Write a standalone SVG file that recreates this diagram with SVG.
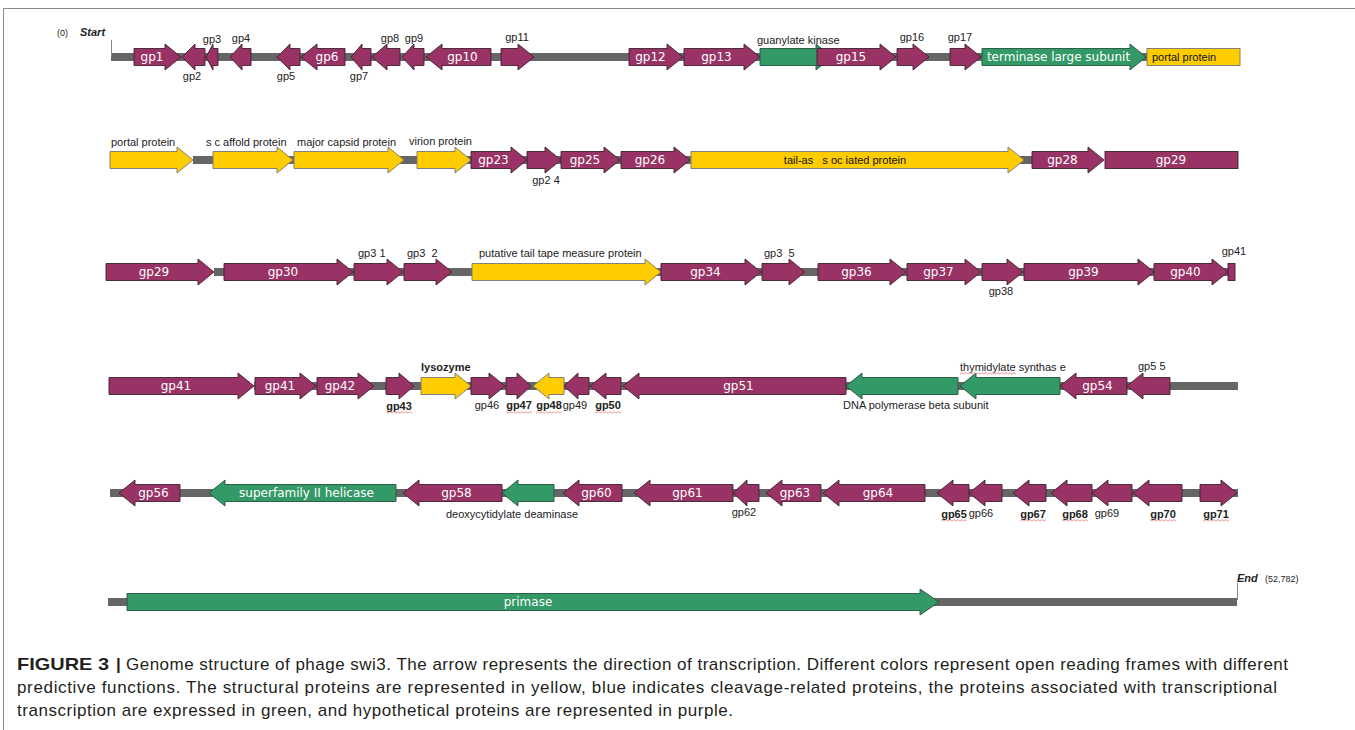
<svg xmlns="http://www.w3.org/2000/svg" width="1355" height="730" viewBox="0 0 1355 730">
<defs>
<pattern id="wave" width="4" height="3" patternUnits="userSpaceOnUse"><path d="M0 2.2L2 0.6L4 2.2" fill="none" stroke="#e06a6a" stroke-width="0.7"/></pattern>
</defs>
<style>
.p{fill:#993366;stroke:#402030;stroke-width:.9}
.g{fill:#339966;stroke:#24523c;stroke-width:.9}
.y{fill:#ffcc00;stroke:#777;stroke-width:.9}
.bb{fill:#666}
.t{font-family:"DejaVu Sans",Verdana,sans-serif;font-size:12px;fill:#fff;text-anchor:middle}
.l{font-family:"Liberation Sans",Arial,sans-serif;font-size:11px;fill:#222}
.m{text-anchor:middle}
.b{font-weight:bold}
.k{font-family:"Liberation Sans",Arial,sans-serif;font-size:11px;fill:#111}
.w{fill:url(#wave)}
.cap{font-family:"Liberation Sans",Arial,sans-serif;font-size:17px;fill:#231f20}
</style>
<rect width="1355" height="730" fill="#fff"/>
<path d="M3.5 730V8.5H1355" fill="none" stroke="#8a8a8a" stroke-width="1"/>

<g id="connectors">
<rect class="bb" x="111" y="53" width="1036" height="8"/>
<rect class="bb" x="193" y="156" width="839" height="8"/>
<rect class="bb" x="214" y="268" width="1014" height="8"/>
<rect class="bb" x="254" y="382" width="984" height="8"/>
<rect class="bb" x="110" y="489" width="1128" height="8"/>
<rect class="bb" x="108" y="598" width="1129" height="8"/>
<path d="M111.5 40V57M1237.5 583V600" stroke="#888" stroke-width="1"/>
</g>

<g id="start-end">
<text class="l" x="57" y="36" style="font-size:9px">(0)</text>
<text class="l b" x="80" y="36" style="font-style:italic">Start</text>
<text class="l b" x="1237" y="582" style="font-style:italic">End</text>
<text class="l" x="1265" y="582" style="font-size:9px">(52,782)</text>
</g>

<g id="row1" transform="translate(0,57)">
<g id="gp1"><path class="p" d="M134 -8.5H165V-13L181 0L165 13V8.5H134Z"/><text class="t" x="152" y="4">gp1</text></g>
<g id="gp2"><path class="p" d="M205 -8.5H195V-13L182 0L195 13V8.5H205Z"/><text class="l m" x="192" y="23">gp2</text></g>
<g id="gp3"><path class="p" d="M218 -8.5H213V-13L206 0L213 13V8.5H218Z"/><text class="l m" x="212" y="-14">gp3</text></g>
<g id="gp4"><path class="p" d="M251 -8.5H242V-13L230 0L242 13V8.5H251Z"/><text class="l m" x="241" y="-15">gp4</text></g>
<g id="gp5"><path class="p" d="M300 -8.5H290V-13L277 0L290 13V8.5H300Z"/><text class="l m" x="286" y="23">gp5</text></g>
<g id="gp6"><path class="p" d="M345 -8.5H317V-13L301 0L317 13V8.5H345Z"/><text class="t" x="327" y="4">gp6</text></g>
<g id="gp7"><path class="p" d="M371 -8.5H362V-13L351 0L362 13V8.5H371Z"/><text class="l m" x="359" y="23">gp7</text></g>
<g id="gp8"><path class="p" d="M400 -8.5H387V-13L372 0L387 13V8.5H400Z"/><text class="l m" x="390" y="-15">gp8</text></g>
<g id="gp9"><path class="p" d="M424 -8.5H414V-13L402 0L414 13V8.5H424Z"/><text class="l m" x="414" y="-15">gp9</text></g>
<g id="gp10"><path class="p" d="M491 -8.5H442V-13L426 0L442 13V8.5H491Z"/><text class="t" x="462.5" y="4">gp10</text></g>
<g id="gp11"><path class="p" d="M501 -8.5H518V-13L534 0L518 13V8.5H501Z"/><text class="l m" x="517" y="-16">gp11</text></g>
<g id="gp12"><path class="p" d="M629 -8.5H667V-13L683 0L667 13V8.5H629Z"/><text class="t" x="650.5" y="4">gp12</text></g>
<g id="gp13"><path class="p" d="M684 -8.5H744V-13L760 0L744 13V8.5H684Z"/><text class="t" x="716.5" y="4">gp13</text></g>
<g id="guanylate-kinase"><path class="g" d="M760 -8.5H816V-13L832 0L816 13V8.5H760Z"/><text class="l" x="757" y="-13">guanylate kinase</text></g>
<g id="gp15"><path class="p" d="M817 -8.5H880V-13L896 0L880 13V8.5H817Z"/><text class="t" x="851" y="4">gp15</text></g>
<g id="gp16"><path class="p" d="M897 -8.5H913V-13L929 0L913 13V8.5H897Z"/><text class="l m" x="912" y="-16">gp16</text></g>
<g id="gp17"><path class="p" d="M950 -8.5H965V-13L981 0L965 13V8.5H950Z"/><text class="l m" x="960" y="-16">gp17</text></g>
<g id="terminase"><path class="g" d="M982 -8.5H1130V-13L1146 0L1130 13V8.5H982Z"/><text class="t" x="1058.5" y="4">terminase large subunit</text></g>
<g id="portal-a"><rect class="y" x="1147" y="-8.5" width="93" height="17"/><text class="k" x="1152" y="4">portal protein</text></g>
</g>

<g id="row2" transform="translate(0,160)">
<g id="portal-b"><path class="y" d="M110 -8.5H177V-13L193 0L177 13V8.5H110Z"/><text class="l" x="111" y="-14">portal protein</text></g>
<g id="scaffold"><path class="y" d="M213 -8.5H277V-13L293 0L277 13V8.5H213Z"/><text class="l" x="206" y="-14">s c affold protein</text></g>
<g id="major-capsid"><path class="y" d="M294 -8.5H388V-13L404 0L388 13V8.5H294Z"/><text class="l" x="297" y="-14">major capsid protein</text></g>
<g id="virion"><path class="y" d="M417 -8.5H455V-13L471 0L455 13V8.5H417Z"/><text class="l" x="409" y="-15">virion protein</text></g>
<g id="gp23"><path class="p" d="M471 -8.5H511V-13L527 0L511 13V8.5H471Z"/><text class="t" x="493.5" y="4">gp23</text></g>
<g id="gp24"><path class="p" d="M527 -8.5H545V-13L561 0L545 13V8.5H527Z"/><text class="l m" x="546" y="24">gp2 4</text></g>
<g id="gp25"><path class="p" d="M561 -8.5H604V-13L620 0L604 13V8.5H561Z"/><text class="t" x="585" y="4">gp25</text></g>
<g id="gp26"><path class="p" d="M621 -8.5H674V-13L690 0L674 13V8.5H621Z"/><text class="t" x="650" y="4">gp26</text></g>
<g id="tail-associated"><path class="y" d="M691 -8.5H1008V-13L1024 0L1008 13V8.5H691Z"/><text class="k m" x="845" y="4" xml:space="preserve">tail-as   s oc iated protein</text></g>
<g id="gp28"><path class="p" d="M1032 -8.5H1088V-13L1104 0L1088 13V8.5H1032Z"/><text class="t" x="1062.5" y="4">gp28</text></g>
<g id="gp29-a"><rect class="p" x="1105" y="-8.5" width="133" height="17"/><text class="t" x="1171" y="4">gp29</text></g>
</g>

<g id="row3" transform="translate(0,272)">
<g id="gp29-b"><path class="p" d="M106 -8.5H198V-13L214 0L198 13V8.5H106Z"/><text class="t" x="154" y="4">gp29</text></g>
<g id="gp30"><path class="p" d="M224 -8.5H337V-13L353 0L337 13V8.5H224Z"/><text class="t" x="283" y="4">gp30</text></g>
<g id="gp31"><path class="p" d="M354 -8.5H387V-13L403 0L387 13V8.5H354Z"/><text class="l" x="358" y="-15">gp3 1</text></g>
<g id="gp32"><path class="p" d="M404 -8.5H436V-13L452 0L436 13V8.5H404Z"/><text class="l" x="407" y="-15" xml:space="preserve">gp3  2</text></g>
<g id="tape-measure"><path class="y" d="M472 -8.5H645V-13L661 0L645 13V8.5H472Z"/><text class="l" x="479" y="-15">putative tail tape measure protein</text></g>
<g id="gp34"><path class="p" d="M661 -8.5H745V-13L761 0L745 13V8.5H661Z"/><text class="t" x="705.5" y="4">gp34</text></g>
<g id="gp35"><path class="p" d="M762 -8.5H789V-13L805 0L789 13V8.5H762Z"/><text class="l" x="764" y="-15" xml:space="preserve">gp3  5</text></g>
<g id="gp36"><path class="p" d="M818 -8.5H890V-13L906 0L890 13V8.5H818Z"/><text class="t" x="856.5" y="4">gp36</text></g>
<g id="gp37"><path class="p" d="M907 -8.5H965V-13L981 0L965 13V8.5H907Z"/><text class="t" x="938.5" y="4">gp37</text></g>
<g id="gp38"><path class="p" d="M982 -8.5H1007V-13L1023 0L1007 13V8.5H982Z"/><text class="l m" x="1001" y="23">gp38</text></g>
<g id="gp39"><path class="p" d="M1024 -8.5H1138V-13L1154 0L1138 13V8.5H1024Z"/><text class="t" x="1083.5" y="4">gp39</text></g>
<g id="gp40"><path class="p" d="M1154 -8.5H1212V-13L1228 0L1212 13V8.5H1154Z"/><text class="t" x="1185.5" y="4">gp40</text></g>
<g id="gp41-a"><rect class="p" x="1228" y="-8.5" width="7" height="17"/><text class="l m" x="1234" y="-17">gp41</text></g>
</g>

<g id="row4" transform="translate(0,386)">
<g id="gp41-b"><path class="p" d="M109 -8.5H238V-13L254 0L238 13V8.5H109Z"/><text class="t" x="176" y="4">gp41</text></g>
<g id="gp41-c"><path class="p" d="M255 -8.5H300V-13L316 0L300 13V8.5H255Z"/><text class="t" x="280" y="4">gp41</text></g>
<g id="gp42"><path class="p" d="M317 -8.5H358V-13L374 0L358 13V8.5H317Z"/><text class="t" x="340" y="4">gp42</text></g>
<g id="gp43"><path class="p" d="M386 -8.5H399V-13L414 0L399 13V8.5H386Z"/><text class="l m b" x="399" y="24">gp43</text></g>
<g id="lysozyme"><path class="y" d="M421 -8.5H455V-13L471 0L455 13V8.5H421Z"/><text class="l b" x="421" y="-15">lysozyme</text></g>
<g id="gp46"><path class="p" d="M471 -8.5H489V-13L505 0L489 13V8.5H471Z"/><text class="l m" x="487" y="23">gp46</text></g>
<g id="gp47"><path class="p" d="M506 -8.5H517V-13L531 0L517 13V8.5H506Z"/><text class="l m b" x="519" y="23">gp47</text></g>
<g id="gp48"><path class="y" d="M564 -8.5H549V-13L533 0L549 13V8.5H564Z"/><text class="l m b" x="549" y="23">gp48</text></g>
<g id="gp49"><path class="p" d="M589 -8.5H578V-13L564 0L578 13V8.5H589Z"/><text class="l m" x="575" y="23">gp49</text></g>
<g id="gp50"><path class="p" d="M621 -8.5H606V-13L590 0L606 13V8.5H621Z"/><text class="l m b" x="608" y="23">gp50</text></g>
<g id="gp51"><path class="p" d="M846 -8.5H639V-13L623 0L639 13V8.5H846Z"/><text class="t" x="738.5" y="4">gp51</text></g>
<g id="dna-polymerase"><path class="g" d="M958 -8.5H862V-13L846 0L862 13V8.5H958Z"/><text class="l" x="843" y="23">DNA polymerase beta subunit</text></g>
<g id="thymidylate-synthase"><path class="g" d="M1060 -8.5H976V-13L960 0L976 13V8.5H1060Z"/><text class="l" x="960" y="-15">thymidylate synthas e</text></g>
<g id="gp54"><path class="p" d="M1127 -8.5H1076V-13L1060 0L1076 13V8.5H1127Z"/><text class="t" x="1097.5" y="4">gp54</text></g>
<g id="gp55"><path class="p" d="M1170 -8.5H1143V-13L1127 0L1143 13V8.5H1170Z"/><text class="l" x="1138" y="-16">gp5 5</text></g>
</g>

<g id="row5" transform="translate(0,493)">
<g id="gp56"><path class="p" d="M180 -8.5H135V-13L119 0L135 13V8.5H180Z"/><text class="t" x="153.5" y="4">gp56</text></g>
<g id="helicase"><path class="g" d="M396 -8.5H225V-13L209 0L225 13V8.5H396Z"/><text class="t" x="306.5" y="4">superfamily II helicase</text></g>
<g id="gp58"><path class="p" d="M502 -8.5H419V-13L403 0L419 13V8.5H502Z"/><text class="t" x="456.5" y="4">gp58</text></g>
<g id="deaminase"><path class="g" d="M554 -8.5H518V-13L502 0L518 13V8.5H554Z"/><text class="l" x="446" y="25">deoxycytidylate deaminase</text></g>
<g id="gp60"><path class="p" d="M622 -8.5H579V-13L563 0L579 13V8.5H622Z"/><text class="t" x="596.5" y="4">gp60</text></g>
<g id="gp61"><path class="p" d="M733 -8.5H650V-13L634 0L650 13V8.5H733Z"/><text class="t" x="687.5" y="4">gp61</text></g>
<g id="gp62"><path class="p" d="M759 -8.5H747V-13L733 0L747 13V8.5H759Z"/><text class="l m" x="744" y="23">gp62</text></g>
<g id="gp63"><path class="p" d="M821 -8.5H782V-13L766 0L782 13V8.5H821Z"/><text class="t" x="795" y="4">gp63</text></g>
<g id="gp64"><path class="p" d="M925 -8.5H839V-13L823 0L839 13V8.5H925Z"/><text class="t" x="878" y="4">gp64</text></g>
<g id="gp65"><path class="p" d="M969 -8.5H953V-13L937 0L953 13V8.5H969Z"/><text class="l m b" x="954" y="25">gp65</text></g>
<g id="gp66"><path class="p" d="M1002 -8.5H985V-13L969 0L985 13V8.5H1002Z"/><text class="l m" x="981" y="24">gp66</text></g>
<g id="gp67"><path class="p" d="M1046 -8.5H1029V-13L1013 0L1029 13V8.5H1046Z"/><text class="l m b" x="1033" y="25">gp67</text></g>
<g id="gp68"><path class="p" d="M1092 -8.5H1067V-13L1051 0L1067 13V8.5H1092Z"/><text class="l m b" x="1075" y="25">gp68</text></g>
<g id="gp69"><path class="p" d="M1132 -8.5H1108V-13L1092 0L1108 13V8.5H1132Z"/><text class="l m" x="1107" y="24">gp69</text></g>
<g id="gp70"><path class="p" d="M1182 -8.5H1149V-13L1133 0L1149 13V8.5H1182Z"/><text class="l m b" x="1163" y="25">gp70</text></g>
<g id="gp71"><path class="p" d="M1200 -8.5H1221V-13L1237 0L1221 13V8.5H1200Z"/><text class="l m b" x="1216" y="25">gp71</text></g>
</g>

<g id="row6" transform="translate(0,602)">
<g id="primase"><path class="g" d="M127 -8.5H920V-13L939 0L920 13V8.5H127Z"/><text class="t" x="528" y="4">primase</text></g>
</g>

<g id="spell-marks">
<rect class="w" x="386" y="411" width="26" height="3"/>
<rect class="w" x="506" y="411" width="26" height="3"/>
<rect class="w" x="536" y="411" width="26" height="3"/>
<rect class="w" x="595" y="411" width="26" height="3"/>
<rect class="w" x="960" y="372" width="56" height="3"/>
<rect class="w" x="941" y="519" width="26" height="3"/>
<rect class="w" x="1020" y="519" width="26" height="3"/>
<rect class="w" x="1062" y="519" width="26" height="3"/>
<rect class="w" x="1150" y="519" width="26" height="3"/>
<rect class="w" x="1203" y="519" width="26" height="3"/>
</g>

<g id="caption">
<text class="cap b" x="17" y="670" textLength="92" lengthAdjust="spacingAndGlyphs">FIGURE 3</text>
<text class="cap b" x="116" y="670">|</text>
<text class="cap" x="126" y="670" textLength="1162" lengthAdjust="spacing">Genome structure of phage swi3. The arrow represents the direction of transcription. Different colors represent open reading frames with different</text>
<text class="cap" x="17" y="693" textLength="1260" lengthAdjust="spacing">predictive functions. The structural proteins are represented in yellow, blue indicates cleavage-related proteins, the proteins associated with transcriptional</text>
<text class="cap" x="17" y="716" textLength="716" lengthAdjust="spacing">transcription are expressed in green, and hypothetical proteins are represented in purple.</text>
</g>
</svg>
